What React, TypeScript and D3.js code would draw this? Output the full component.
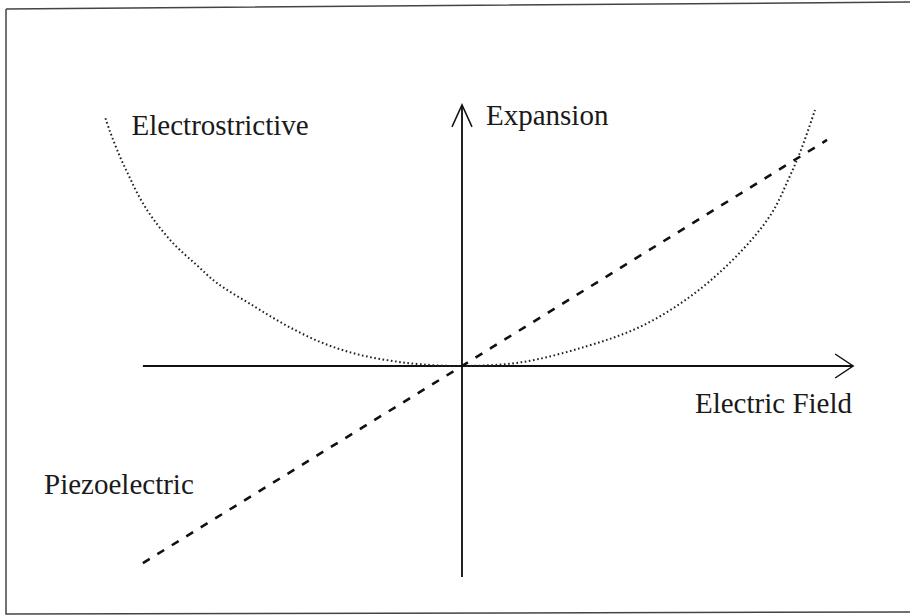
import React from "react";
import * as d3 from "d3";

// Electrostrictive curve (field, expansion) in arbitrary units
const esField = [-101, -99.7, -96.9, -94.1, -91.2, -87.5, -81.8, -75.2, -69.5, -59.1, -49.7, -40.2, -30.8, -21.3, -11.9, 0, 16.9, 35.5, 50.9, 66, 79.2, 87.7, 92.4, 96.2, 100];
const esExpansion = [96.8, 91.5, 81.8, 73.5, 65.5, 57.5, 47.9, 39.5, 32.5, 23.5, 15.8, 9.4, 5, 2.3, 0.7, 0, 1.5, 7.8, 15.6, 28.5, 45, 59.6, 72.7, 85, 100];

// Piezoelectric line
const pzField = [-90.4, 0, 103.4];
const pzExpansion = [-77, 0, 88.3];

// Axis extents
const xAxisExtent = [-90.4, 110.8];
const yAxisExtent = [-82.4, 102];

// Labels
const labelTexts = ["Electrostrictive", "Expansion", "Electric Field", "Piezoelectric"];
const labelX = [-93.6, 6.8, 66, -118.4];
const labelY = [90.2, 94.1, -18.5, -50];

const W = 910;
const H = 616;

export default function App() {
  const x = d3.scaleLinear().domain([-100, 100]).range([109, 815]);
  const y = d3.scaleLinear().domain([-100, 100]).range([622, 110]);

  const esData = esField.map((f, i) => [f, esExpansion[i]] as [number, number]);
  const pzData = pzField.map((f, i) => [f, pzExpansion[i]] as [number, number]);

  const curve = d3
    .line<[number, number]>()
    .x((d) => x(d[0]))
    .y((d) => y(d[1]))
    .curve(d3.curveCatmullRom.alpha(0.5));
  const straight = d3
    .line<[number, number]>()
    .x((d) => x(d[0]))
    .y((d) => y(d[1]));

  const x0 = x(0);
  const y0 = y(0);
  const hTip = x(xAxisExtent[1]);
  const vTip = y(yAxisExtent[1]);

  return (
    <svg
      width={W}
      height={H}
      style={{ position: "absolute", left: 0, top: 0, background: "#fff" }}
      fontFamily="'Liberation Serif', 'Times New Roman', serif"
    >
      <rect x={0} y={0} width={W} height={H} fill="#fff" />
      {/* border (slightly skewed scan) */}
      <path d={`M6,9 L910,2 M6,9 L6,614 L910,612`} fill="none" stroke="#444" strokeWidth={1.5} />

      {/* axes */}
      <line x1={x(xAxisExtent[0])} y1={y0} x2={hTip} y2={y0} stroke="#111" strokeWidth={1.8} />
      <path d={`M${hTip - 18},${y0 - 12} L${hTip},${y0} L${hTip - 18},${y0 + 12}`} fill="none" stroke="#111" strokeWidth={1.5} />
      <line x1={x0} y1={y(yAxisExtent[0])} x2={x0} y2={vTip} stroke="#222" strokeWidth={2} />
      <path d={`M${x0 - 10},${vTip + 22} L${x0},${vTip} L${x0 + 10},${vTip + 22}`} fill="none" stroke="#111" strokeWidth={1.5} />

      {/* electrostrictive dotted curve */}
      <path d={curve(esData) || ""} fill="none" stroke="#222" strokeWidth={2} strokeDasharray="1.6 2.6" />

      {/* piezoelectric dashed line */}
      <path d={straight(pzData) || ""} fill="none" stroke="#111" strokeWidth={2.6} strokeDasharray="8 9" />

      {/* labels */}
      {labelTexts.map((t, i) => (
        <text key={t} x={x(labelX[i])} y={y(labelY[i])} fontSize={29} fill="#1a1a1a">
          {t}
        </text>
      ))}
    </svg>
  );
}
